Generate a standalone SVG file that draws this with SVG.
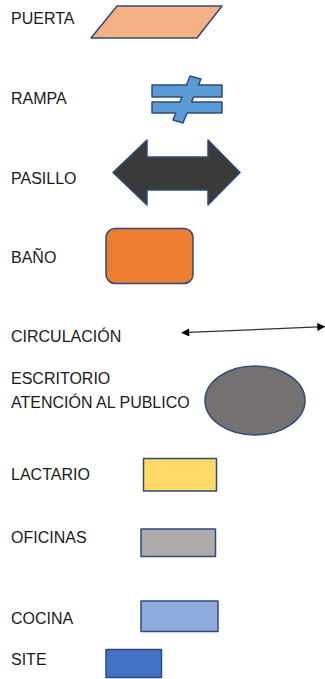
<svg xmlns="http://www.w3.org/2000/svg" width="325" height="679" viewBox="0 0 325 679">
<style>
.lbl{font-family:"Liberation Sans",Arial,sans-serif;font-size:16px;fill:#1a1a1a}
.sh{stroke:#2F4B7C;stroke-width:1.5;stroke-linejoin:round}
</style>
<defs>
<marker id="ah" viewBox="0 0 10 10" refX="9" refY="5" markerWidth="9" markerHeight="8" markerUnits="userSpaceOnUse" orient="auto-start-reverse">
<path d="M0,0 L10,5 L0,10 z" fill="#000"/>
</marker>
</defs>
<rect width="325" height="679" fill="#fff"/>
<g id="puerta">
<text class="lbl" x="11" y="24">PUERTA</text>
<polygon class="sh" points="117,6 222,6 197,38 91,38" fill="#F4B183"/>
</g>
<g id="rampa">
<text class="lbl" x="11" y="104">RAMPA</text>
<polygon class="sh" fill="#5B9BD5" points="190,76 201,79 198.5,85 222,85 222,97 193.6,97 191.6,102 222,102 222,113 187.1,113 183,123 173,120 175.7,113 152,113 152,102 180,102 181.9,97 152,97 152,85 186.5,85"/>
</g>
<g id="pasillo">
<text class="lbl" x="11" y="184">PASILLO</text>
<polygon class="sh" fill="#3A3A3A" points="113,172.5 147,140 147,157 208,157 208,140 240,172.5 208,205 208,190 147,190 147,205"/>
</g>
<g id="bano">
<text class="lbl" x="11" y="263">BAÑO</text>
<rect class="sh" x="106" y="228.5" width="87" height="55" rx="9" fill="#ED7D31"/>
</g>
<g id="circulacion">
<text class="lbl" x="11" y="342">CIRCULACIÓN</text>
</g>
<g id="escritorio">
<text class="lbl" x="11" y="384">ESCRITORIO</text>
<text class="lbl" x="11" y="408">ATENCIÓN AL PUBLICO</text>
<ellipse class="sh" cx="255" cy="400.5" rx="50" ry="34.5" fill="#767171"/>
</g>
<g id="lactario">
<text class="lbl" x="11" y="480">LACTARIO</text>
<rect class="sh" x="143.5" y="458.5" width="73" height="32.5" fill="#FFD966"/>
</g>
<g id="oficinas">
<text class="lbl" x="11" y="543">OFICINAS</text>
<rect class="sh" x="141" y="529" width="74.5" height="27.5" fill="#AEAAAA"/>
</g>
<g id="cocina">
<text class="lbl" x="11" y="624">COCINA</text>
<rect class="sh" x="141" y="601" width="77" height="30.5" fill="#8FAADC"/>
</g>
<g id="site">
<text class="lbl" x="11" y="665">SITE</text>
<rect class="sh" x="106" y="649.5" width="55.5" height="28" fill="#4472C4"/>
</g>
<g id="connectors">
<line x1="182" y1="332.7" x2="324.5" y2="326.7" stroke="#333" stroke-width="1.3" marker-start="url(#ah)" marker-end="url(#ah)"/>
</g>
</svg>
